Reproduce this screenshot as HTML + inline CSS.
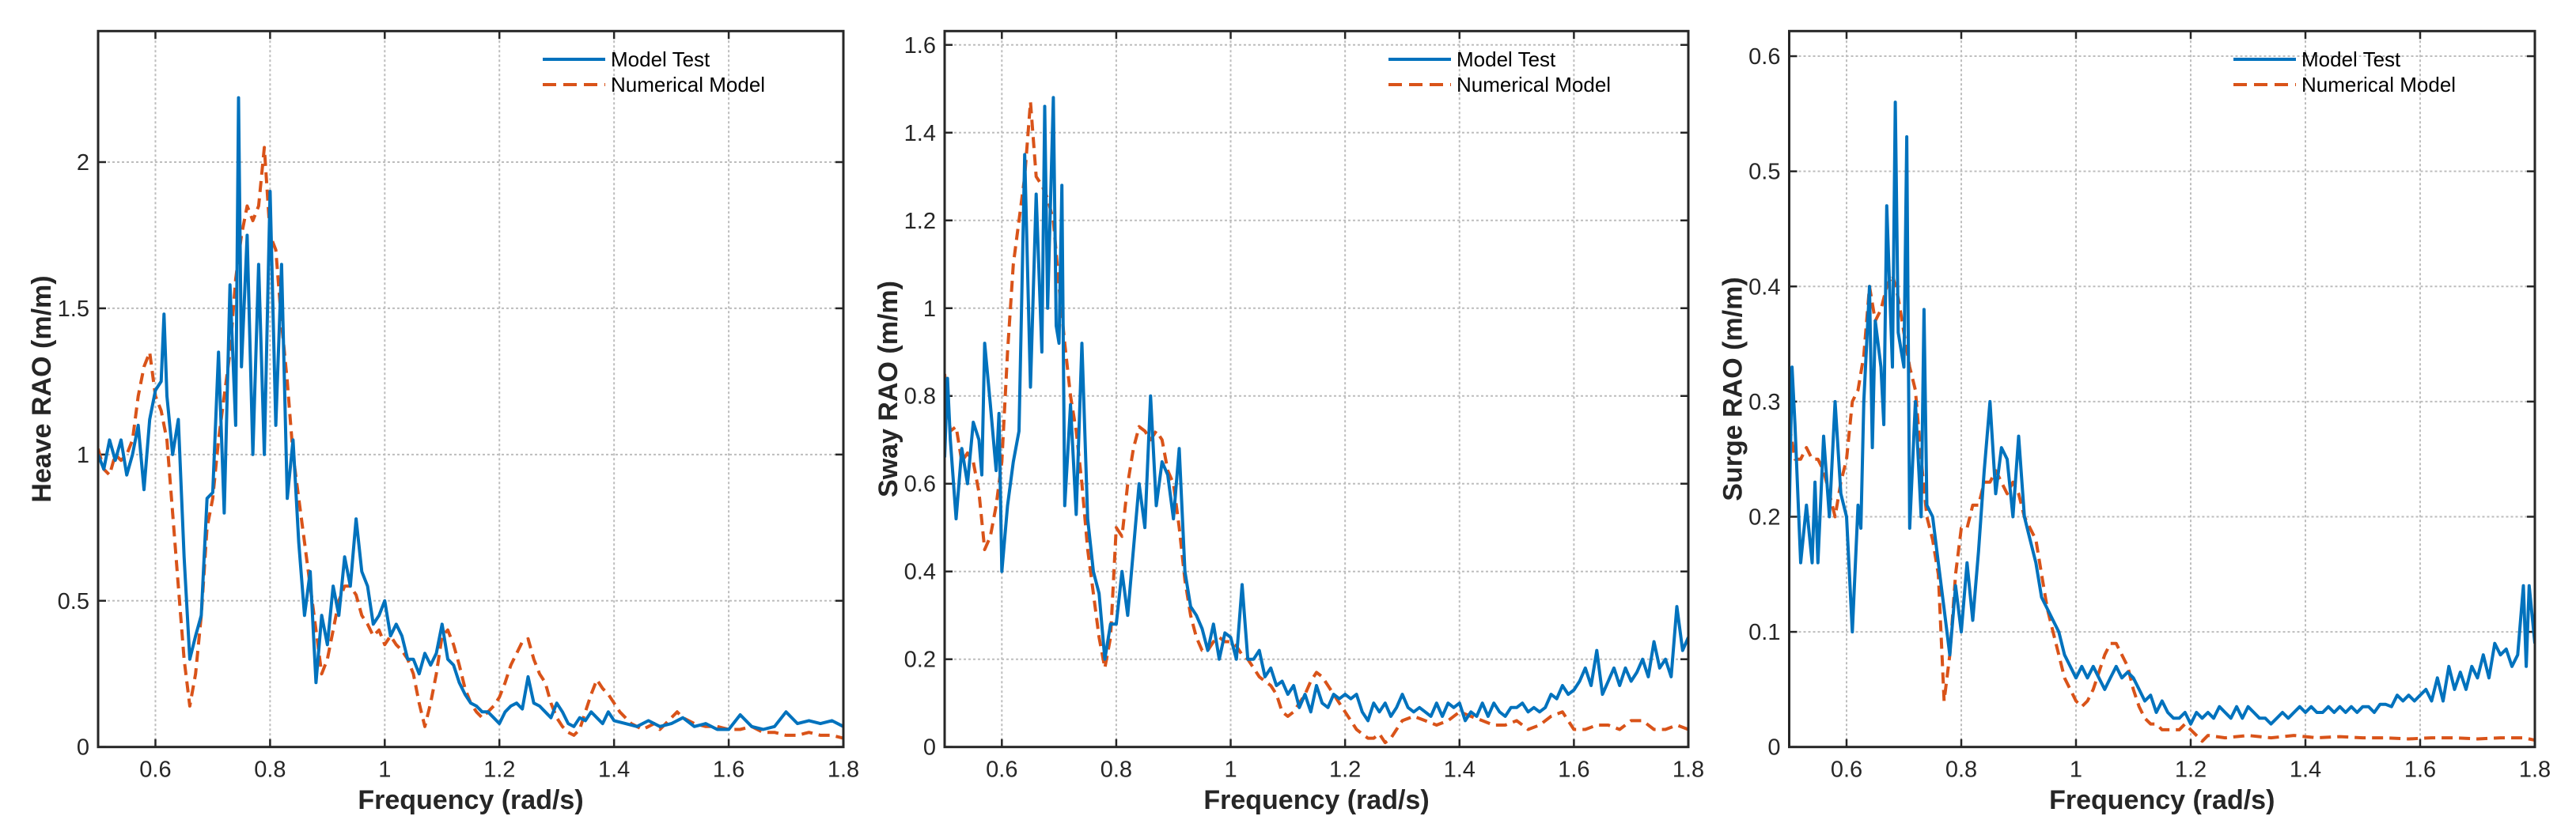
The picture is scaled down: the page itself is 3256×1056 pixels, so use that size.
<!DOCTYPE html>
<html><head><meta charset="utf-8"><style>
html,body{margin:0;padding:0;background:#fff;}
svg{display:block;font-family:"Liberation Sans",Arial,sans-serif;}
</style></head><body>
<svg id="fig" width="3256" height="1056" viewBox="0 0 3256 1056"></svg>
<script>
// ---- data ----
const heaveTestX=[0.50,0.51,0.52,0.53,0.54,0.55,0.56,0.57,0.58,0.59,0.60,0.61,0.615,0.62,0.63,0.64,0.65,0.66,0.67,0.68,0.69,0.70,0.71,0.72,0.73,0.74,0.745,0.75,0.76,0.77,0.78,0.79,0.80,0.81,0.82,0.83,0.84,0.85,0.86,0.87,0.88,0.89,0.90,0.91,0.92,0.93,0.94,0.95,0.96,0.97,0.98,0.99,1.00,1.01,1.02,1.03,1.04,1.05,1.06,1.07,1.08,1.09,1.10,1.11,1.12,1.13,1.14,1.15,1.16,1.17,1.18,1.19,1.20,1.21,1.22,1.23,1.24,1.25,1.26,1.27,1.28,1.29,1.30,1.31,1.32,1.33,1.34,1.35,1.36,1.37,1.38,1.39,1.40,1.42,1.44,1.46,1.48,1.50,1.52,1.54,1.56,1.58,1.60,1.62,1.64,1.66,1.68,1.70,1.72,1.74,1.76,1.78,1.80];
const heaveTestY=[1.0,0.95,1.05,0.98,1.05,0.93,1.0,1.1,0.88,1.12,1.22,1.25,1.48,1.2,1.0,1.12,0.65,0.3,0.38,0.45,0.85,0.87,1.35,0.8,1.58,1.1,2.22,1.3,1.75,1.0,1.65,1.0,1.9,1.1,1.65,0.85,1.05,0.7,0.45,0.6,0.22,0.45,0.35,0.55,0.45,0.65,0.55,0.78,0.6,0.55,0.42,0.45,0.5,0.38,0.42,0.38,0.3,0.3,0.25,0.32,0.28,0.32,0.42,0.3,0.28,0.22,0.18,0.15,0.14,0.12,0.12,0.1,0.08,0.12,0.14,0.15,0.13,0.24,0.15,0.14,0.12,0.1,0.15,0.12,0.08,0.07,0.1,0.09,0.12,0.1,0.08,0.12,0.09,0.08,0.07,0.09,0.07,0.08,0.1,0.07,0.08,0.06,0.06,0.11,0.07,0.06,0.07,0.12,0.08,0.09,0.08,0.09,0.07];
const heaveNumX=[0.50,0.51,0.52,0.53,0.54,0.55,0.56,0.57,0.58,0.59,0.60,0.61,0.62,0.63,0.64,0.65,0.66,0.67,0.68,0.69,0.70,0.71,0.72,0.73,0.74,0.75,0.76,0.77,0.78,0.79,0.80,0.81,0.82,0.83,0.84,0.85,0.86,0.87,0.88,0.89,0.90,0.91,0.92,0.93,0.94,0.95,0.96,0.97,0.98,0.99,1.00,1.01,1.02,1.03,1.04,1.05,1.06,1.07,1.08,1.09,1.10,1.11,1.12,1.13,1.14,1.15,1.16,1.17,1.18,1.19,1.20,1.21,1.22,1.23,1.24,1.25,1.26,1.27,1.28,1.29,1.30,1.31,1.32,1.33,1.34,1.35,1.36,1.37,1.38,1.39,1.40,1.41,1.42,1.43,1.44,1.45,1.46,1.47,1.48,1.49,1.50,1.51,1.52,1.54,1.56,1.58,1.60,1.62,1.64,1.66,1.68,1.70,1.72,1.74,1.76,1.78,1.80];
const heaveNumY=[1.02,0.95,0.93,1.0,0.98,1.0,1.05,1.2,1.3,1.35,1.2,1.15,1.05,0.8,0.55,0.3,0.14,0.25,0.45,0.75,0.85,1.05,1.2,1.35,1.6,1.75,1.85,1.8,1.85,2.05,1.75,1.7,1.45,1.25,1.0,0.85,0.7,0.55,0.4,0.25,0.3,0.4,0.5,0.55,0.55,0.52,0.45,0.42,0.38,0.4,0.35,0.38,0.35,0.33,0.3,0.25,0.15,0.07,0.15,0.25,0.38,0.4,0.35,0.28,0.2,0.15,0.12,0.1,0.12,0.14,0.17,0.22,0.28,0.32,0.36,0.37,0.3,0.25,0.22,0.15,0.1,0.07,0.05,0.04,0.06,0.12,0.18,0.23,0.2,0.18,0.15,0.12,0.1,0.08,0.07,0.06,0.07,0.08,0.06,0.08,0.1,0.12,0.1,0.08,0.07,0.07,0.06,0.06,0.07,0.05,0.05,0.04,0.04,0.05,0.04,0.04,0.03];
const swayTestX=[0.50,0.505,0.51,0.52,0.53,0.54,0.55,0.56,0.565,0.57,0.58,0.59,0.595,0.60,0.61,0.62,0.63,0.64,0.65,0.66,0.67,0.675,0.68,0.69,0.695,0.70,0.705,0.71,0.72,0.73,0.74,0.75,0.76,0.77,0.78,0.79,0.80,0.81,0.82,0.83,0.84,0.85,0.86,0.87,0.88,0.89,0.90,0.91,0.92,0.93,0.94,0.95,0.96,0.97,0.98,0.99,1.00,1.01,1.02,1.03,1.04,1.05,1.06,1.07,1.08,1.09,1.10,1.11,1.12,1.13,1.14,1.15,1.16,1.17,1.18,1.19,1.20,1.21,1.22,1.23,1.24,1.25,1.26,1.27,1.28,1.29,1.30,1.31,1.32,1.33,1.34,1.35,1.36,1.37,1.38,1.39,1.40,1.41,1.42,1.43,1.44,1.45,1.46,1.47,1.48,1.49,1.50,1.51,1.52,1.53,1.54,1.55,1.56,1.57,1.58,1.59,1.60,1.61,1.62,1.63,1.64,1.65,1.66,1.67,1.68,1.69,1.70,1.71,1.72,1.73,1.74,1.75,1.76,1.77,1.78,1.79,1.80];
const swayTestY=[0.66,0.84,0.7,0.52,0.68,0.6,0.74,0.7,0.62,0.92,0.78,0.63,0.76,0.4,0.55,0.65,0.72,1.35,0.82,1.26,0.9,1.46,1.0,1.48,0.96,0.92,1.28,0.55,0.78,0.53,0.92,0.52,0.4,0.35,0.2,0.28,0.28,0.4,0.3,0.45,0.6,0.5,0.8,0.55,0.65,0.62,0.52,0.68,0.4,0.32,0.3,0.27,0.22,0.28,0.2,0.26,0.25,0.2,0.37,0.2,0.2,0.22,0.16,0.18,0.14,0.15,0.12,0.14,0.09,0.12,0.08,0.14,0.1,0.09,0.12,0.11,0.12,0.11,0.12,0.08,0.06,0.1,0.08,0.1,0.07,0.09,0.12,0.09,0.08,0.09,0.08,0.07,0.1,0.07,0.1,0.09,0.1,0.06,0.08,0.07,0.1,0.07,0.1,0.08,0.07,0.09,0.09,0.1,0.08,0.09,0.08,0.09,0.12,0.11,0.14,0.12,0.13,0.15,0.18,0.14,0.22,0.12,0.15,0.18,0.14,0.18,0.15,0.17,0.2,0.16,0.24,0.18,0.2,0.16,0.32,0.22,0.25];
const swayNumX=[0.50,0.51,0.52,0.53,0.54,0.55,0.56,0.57,0.58,0.59,0.60,0.61,0.62,0.63,0.64,0.65,0.66,0.67,0.68,0.69,0.70,0.71,0.72,0.73,0.74,0.75,0.76,0.77,0.78,0.79,0.80,0.81,0.82,0.83,0.84,0.85,0.86,0.87,0.88,0.89,0.90,0.91,0.92,0.93,0.94,0.95,0.96,0.97,0.98,0.99,1.00,1.01,1.02,1.03,1.04,1.05,1.06,1.07,1.08,1.09,1.10,1.11,1.12,1.13,1.14,1.15,1.16,1.17,1.18,1.19,1.20,1.21,1.22,1.23,1.24,1.25,1.26,1.27,1.28,1.29,1.30,1.32,1.34,1.36,1.38,1.40,1.42,1.44,1.46,1.48,1.50,1.52,1.54,1.56,1.58,1.60,1.62,1.64,1.66,1.68,1.70,1.72,1.74,1.76,1.78,1.80];
const swayNumY=[0.85,0.72,0.73,0.65,0.67,0.65,0.58,0.45,0.48,0.55,0.65,0.9,1.1,1.2,1.3,1.47,1.3,1.28,1.25,1.2,1.05,0.92,0.8,0.72,0.6,0.45,0.35,0.25,0.18,0.25,0.5,0.48,0.6,0.68,0.73,0.72,0.7,0.72,0.7,0.63,0.6,0.5,0.38,0.3,0.25,0.22,0.22,0.24,0.25,0.24,0.24,0.23,0.21,0.2,0.18,0.16,0.15,0.14,0.12,0.08,0.07,0.08,0.1,0.12,0.15,0.17,0.16,0.14,0.12,0.1,0.08,0.06,0.04,0.03,0.02,0.02,0.03,0.01,0.02,0.04,0.06,0.07,0.06,0.05,0.06,0.08,0.07,0.06,0.05,0.05,0.06,0.04,0.05,0.07,0.08,0.04,0.04,0.05,0.05,0.04,0.06,0.06,0.04,0.04,0.05,0.04];
const surgeTestX=[0.50,0.505,0.51,0.52,0.53,0.54,0.545,0.55,0.56,0.57,0.58,0.59,0.60,0.61,0.62,0.625,0.63,0.64,0.645,0.65,0.66,0.665,0.67,0.68,0.685,0.69,0.70,0.705,0.71,0.72,0.73,0.735,0.74,0.75,0.76,0.77,0.78,0.79,0.80,0.81,0.82,0.83,0.84,0.85,0.86,0.87,0.88,0.89,0.90,0.91,0.92,0.93,0.94,0.95,0.96,0.97,0.98,0.99,1.00,1.01,1.02,1.03,1.04,1.05,1.06,1.07,1.08,1.09,1.10,1.11,1.12,1.13,1.14,1.15,1.16,1.17,1.18,1.19,1.20,1.21,1.22,1.23,1.24,1.25,1.26,1.27,1.28,1.29,1.30,1.31,1.32,1.33,1.34,1.35,1.36,1.37,1.38,1.39,1.40,1.41,1.42,1.43,1.44,1.45,1.46,1.47,1.48,1.49,1.50,1.51,1.52,1.53,1.54,1.55,1.56,1.57,1.58,1.59,1.60,1.61,1.62,1.63,1.64,1.65,1.66,1.67,1.68,1.69,1.70,1.71,1.72,1.73,1.74,1.75,1.76,1.77,1.78,1.785,1.79,1.80];
const surgeTestY=[0.2,0.33,0.28,0.16,0.21,0.16,0.23,0.16,0.27,0.2,0.3,0.22,0.2,0.1,0.21,0.19,0.3,0.4,0.26,0.37,0.33,0.28,0.47,0.33,0.56,0.36,0.33,0.53,0.19,0.3,0.2,0.38,0.21,0.2,0.16,0.12,0.08,0.14,0.1,0.16,0.11,0.17,0.24,0.3,0.22,0.26,0.25,0.2,0.27,0.2,0.18,0.16,0.13,0.12,0.11,0.1,0.08,0.07,0.06,0.07,0.06,0.07,0.06,0.05,0.06,0.07,0.06,0.065,0.06,0.05,0.04,0.045,0.03,0.04,0.03,0.025,0.025,0.03,0.02,0.03,0.025,0.03,0.025,0.035,0.03,0.025,0.035,0.025,0.035,0.03,0.025,0.025,0.02,0.025,0.03,0.025,0.03,0.035,0.03,0.035,0.03,0.03,0.035,0.03,0.035,0.03,0.035,0.03,0.035,0.035,0.03,0.037,0.037,0.035,0.045,0.04,0.045,0.04,0.045,0.05,0.04,0.06,0.04,0.07,0.05,0.065,0.05,0.07,0.06,0.08,0.06,0.09,0.08,0.085,0.07,0.08,0.14,0.07,0.14,0.09];
const surgeNumX=[0.50,0.51,0.52,0.53,0.54,0.55,0.56,0.57,0.58,0.59,0.60,0.61,0.62,0.63,0.64,0.65,0.66,0.67,0.68,0.69,0.70,0.71,0.72,0.73,0.74,0.75,0.76,0.77,0.78,0.79,0.80,0.81,0.82,0.83,0.84,0.85,0.86,0.87,0.88,0.89,0.90,0.91,0.92,0.93,0.94,0.95,0.96,0.97,0.98,0.99,1.00,1.01,1.02,1.03,1.04,1.05,1.06,1.07,1.08,1.09,1.10,1.11,1.12,1.13,1.14,1.15,1.16,1.17,1.18,1.19,1.20,1.21,1.22,1.23,1.26,1.30,1.34,1.38,1.42,1.46,1.50,1.54,1.58,1.62,1.66,1.70,1.74,1.78,1.80];
const surgeNumY=[0.28,0.25,0.25,0.26,0.25,0.25,0.24,0.22,0.2,0.23,0.25,0.3,0.31,0.34,0.4,0.37,0.38,0.4,0.41,0.39,0.36,0.33,0.31,0.25,0.2,0.18,0.15,0.04,0.08,0.15,0.19,0.19,0.21,0.21,0.23,0.23,0.24,0.23,0.22,0.23,0.22,0.2,0.19,0.18,0.15,0.12,0.1,0.08,0.06,0.05,0.04,0.035,0.04,0.05,0.065,0.08,0.09,0.09,0.08,0.07,0.05,0.035,0.025,0.02,0.02,0.015,0.015,0.015,0.015,0.02,0.015,0.01,0.005,0.01,0.008,0.01,0.008,0.01,0.008,0.009,0.008,0.008,0.007,0.008,0.008,0.007,0.008,0.008,0.006];

const heaveYTicks=[0,0.5,1,1.5,2];
const heaveYLabels=["0","0.5","1","1.5","2"];
const swayYTicks=[0,0.2,0.4,0.6,0.8,1,1.2,1.4,1.6];
const swayYLabels=["0","0.2","0.4","0.6","0.8","1","1.2","1.4","1.6"];
const surgeYTicks=[0,0.1,0.2,0.3,0.4,0.5,0.6];
const surgeYLabels=["0","0.1","0.2","0.3","0.4","0.5","0.6"];
const xTicks=[0.6,0.8,1,1.2,1.4,1.6,1.8];
const xLabels=["0.6","0.8","1","1.2","1.4","1.6","1.8"];

// ---- drawing ----
const NS="http://www.w3.org/2000/svg";
const svg=document.getElementById('fig');
function mk(tag,attrs,parent){const e=document.createElementNS(NS,tag);for(const k in attrs)e.setAttribute(k,attrs[k]);(parent||svg).appendChild(e);return e;}

const panels=[
 {name:'heave',L:124,R:1066,T:39.3,B:944.7,ymax:2.448,yt:heaveYTicks,yl:heaveYLabels,title:'Heave RAO (m/m)',tx:heaveTestX,ty:heaveTestY,nx:heaveNumX,ny:heaveNumY,lx:686},
 {name:'sway',L:1194,R:2134,T:39.3,B:944.7,ymax:1.6315,yt:swayYTicks,yl:swayYLabels,title:'Sway RAO (m/m)',tx:swayTestX,ty:swayTestY,nx:swayNumX,ny:swayNumY,lx:1755},
 {name:'surge',L:2261.5,R:3204,T:39.3,B:944.7,ymax:0.6218,yt:surgeYTicks,yl:surgeYLabels,title:'Surge RAO (m/m)',tx:surgeTestX,ty:surgeTestY,nx:surgeNumX,ny:surgeNumY,lx:2823}
];

panels.forEach(p=>{
 const g=mk('g',{});
 
 
 const sx=v=>p.L+(v-0.5)/(1.3)*(p.R-p.L);
 const sy=v=>p.B-v/p.ymax*(p.B-p.T);
 xTicks.forEach((t,i)=>{
   const x=sx(t);
   const gl=mk('line',{x1:x,x2:x,y1:p.T,y2:p.B,stroke:'#bdbdbd','stroke-width':2,'stroke-dasharray':'3 3'},g);
   
   
   mk('line',{x1:x,x2:x,y1:p.B,y2:p.B-10,stroke:'#262626','stroke-width':2.5},g);
   mk('line',{x1:x,x2:x,y1:p.T,y2:p.T+10,stroke:'#262626','stroke-width':2.5},g);
   const tl=mk('text',{x:x,y:p.B+38,'text-anchor':'middle','font-size':29,fill:'#262626'},g);
   tl.textContent=xLabels[i];
   
   
 });
 p.yt.forEach((t,i)=>{
   const y=sy(t);
   if(t>0){const gl=mk('line',{x1:p.L,x2:p.R,y1:y,y2:y,stroke:'#bdbdbd','stroke-width':2,'stroke-dasharray':'3 3'},g);
   
   }
   mk('line',{x1:p.L,x2:p.L+10,y1:y,y2:y,stroke:'#262626','stroke-width':2.5},g);
   mk('line',{x1:p.R,x2:p.R-10,y1:y,y2:y,stroke:'#262626','stroke-width':2.5},g);
   const tl=mk('text',{x:p.L-11,y:y+10,'text-anchor':'end','font-size':29,fill:'#262626'},g);
   tl.textContent=p.yl[i];
   
   
 });
 const cp=mk('clipPath',{id:'clip-'+p.name},g);
 mk('rect',{x:p.L,y:p.T,width:p.R-p.L,height:p.B-p.T},cp);
 const pts=(xs,ys)=>xs.map((x,i)=>sx(x).toFixed(1)+','+sy(ys[i]).toFixed(1)).join(' ');
 const nl=mk('polyline',{points:pts(p.nx,p.ny),fill:'none',stroke:'#D95319','stroke-width':4,'stroke-dasharray':'14 8','clip-path':'url(#clip-'+p.name+')','stroke-linejoin':'round'},g);
 
 
 const tlne=mk('polyline',{points:pts(p.tx,p.ty),fill:'none',stroke:'#0072BD','stroke-width':4,'clip-path':'url(#clip-'+p.name+')','stroke-linejoin':'round'},g);
 
 
 const bx=mk('rect',{x:p.L,y:p.T,width:p.R-p.L,height:p.B-p.T,fill:'none',stroke:'#262626','stroke-width':3},g);
 
 
 const xt=mk('text',{x:(p.L+p.R)/2,y:1023,'text-anchor':'middle','font-size':34,'font-weight':'bold',fill:'#262626'},g);
 xt.textContent='Frequency (rad/s)';
 
 
 const cy=(p.T+p.B)/2;
 const ax=p.L-60;
 const yt=mk('text',{x:ax,y:cy,'text-anchor':'middle','font-size':34,'font-weight':'bold',fill:'#262626',transform:'rotate(-90 '+ax+' '+cy+')'},g);
 yt.textContent=p.title;
 
 
 const lg=mk('g',{},g);
 
 
 mk('line',{x1:p.lx,x2:p.lx+79,y1:75,y2:75,stroke:'#0072BD','stroke-width':4},lg);
 mk('line',{x1:p.lx,x2:p.lx+79,y1:107,y2:107,stroke:'#D95319','stroke-width':4,'stroke-dasharray':'17 9'},lg);
 const e1=mk('text',{x:p.lx+86,y:84,'font-size':26,fill:'#000'},lg);
 e1.textContent='Model Test';
 
 
 const e2=mk('text',{x:p.lx+86,y:116,'font-size':26,fill:'#000'},lg);
 e2.textContent='Numerical Model';
 
 
});
</script>
</body></html>
